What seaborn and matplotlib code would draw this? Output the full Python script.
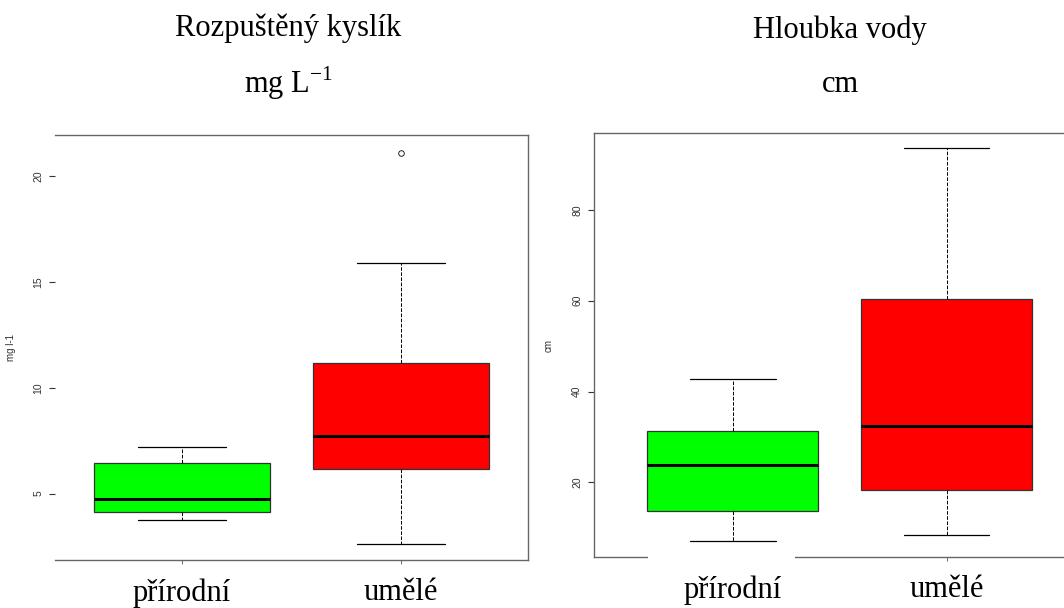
"""Boxploty: rozpusteny kyslik a hloubka vody, prirodni vs. umele tune."""

import numpy as np
import pandas as pd
import matplotlib.pyplot as plt
from matplotlib.patches import Rectangle
import seaborn as sns

# Kategorie a hodnoty (min, Q1, median, Q3, max + outlier)
skupiny = ["přírodní", "umělé"]
barvy = {"přírodní": "#00FF00", "umělé": "#FF0000"}

kyslik_prirodni = [3.77, 4.15, 4.76, 6.42, 7.22]
kyslik_umele = [2.6, 5.0, 6.18, 7.0, 7.74, 9.5, 11.18, 15.9, 21.1]

hloubka_prirodni = [7.1, 13.6, 23.9, 31.4, 42.8]
hloubka_umele = [8.4, 18.2, 32.3, 60.3, 93.6]


def dlouhy_format(prirodni, umele):
    return pd.DataFrame({
        "skupina": ["přírodní"] * len(prirodni) + ["umělé"] * len(umele),
        "hodnota": list(prirodni) + list(umele),
    })


sns.set_style("white")
plt.rcParams["font.family"] = ["Liberation Sans", "DejaVu Sans"]
plt.rcParams["text.color"] = "black"
plt.rcParams["mathtext.fontset"] = "custom"
plt.rcParams["mathtext.rm"] = "Liberation Serif"

fig = plt.figure(figsize=(10.64, 6.08), dpi=100)
ax1 = fig.add_axes([55 / 1064, 48 / 608, 473 / 1064, 425 / 608])
ax2 = fig.add_axes([594 / 1064, 51 / 608, 481 / 1064, 424 / 608])

panely = [
    (ax1, dlouhy_format(kyslik_prirodni, kyslik_umele), "mg l-1",
     [5, 10, 15, 20], (1.86, 21.94), (-0.58, 1.58)),
    (ax2, dlouhy_format(hloubka_prirodni, hloubka_umele), "cm",
     [20, 40, 60, 80], (3.54, 96.96), (-0.65, 1.60)),
]

for ax, df, ylab, yticks, ylim, xlim in panely:
    sns.boxplot(data=df, x="skupina", y="hodnota", hue="skupina", order=skupiny,
                palette=barvy, saturation=1, width=0.8, legend=False, ax=ax,
                linecolor="#333333", linewidth=0.9,
                medianprops=dict(color="black", linewidth=2.2),
                whiskerprops=dict(color="black", linestyle="--", linewidth=0.7),
                capprops=dict(color="black", linewidth=0.9),
                flierprops=dict(marker="o", markerfacecolor="none",
                                markeredgecolor="black", markersize=4,
                                markeredgewidth=0.6))
    ax.set_xlim(*xlim)
    ax.set_ylim(*ylim)
    ax.set_yticks(yticks)
    ax.set_xlabel("")
    ax.set_ylabel(ylab, fontsize=7, color="#333333")
    ax.yaxis.set_label_coords(-0.083, 0.5)
    ax.tick_params(axis="y", left=True, length=4.5, width=0.8, pad=4,
                   labelsize=7.5, labelcolor="#333333", labelrotation=90, color="#333333")
    for lbl in ax.get_yticklabels():
        lbl.set_va("center")
    ax.tick_params(axis="x", bottom=True, length=3, width=0.6, pad=10,
                   color="#555555", labelcolor="black")
    ax.set_xticks([0, 1])
    ax.set_xticklabels(skupiny, fontsize=22, family="Liberation Serif")
    for s in ax.spines.values():
        s.set_color("#666666")
        s.set_linewidth(1.0)

ax1.spines["left"].set_visible(False)

# bila mezera v dolni ose praveho panelu (prekryto popiskem)
fig.add_artist(Rectangle((648 / 1064, 44 / 608), 147 / 1064, 14 / 608,
                         transform=fig.transFigure, facecolor="white",
                         edgecolor="none", zorder=10))

# nadpisy panelu
fig.text(288 / 1064, 1 - 28 / 608, "Rozpuštěný kyslík", ha="center", va="center",
         fontsize=22, family="Liberation Serif", color="black")
fig.text(288 / 1064, 1 - 83 / 608, r"mg L$^{\mathregular{-1}}$", ha="center", va="center",
         fontsize=22, family="Liberation Serif", color="black")
fig.text(840 / 1064, 1 - 30 / 608, "Hloubka vody", ha="center", va="center",
         fontsize=22, family="Liberation Serif", color="black")
fig.text(840 / 1064, 1 - 85 / 608, "cm", ha="center", va="center",
         fontsize=22, family="Liberation Serif", color="black")

fig.savefig("out.png", dpi=100, facecolor="white")
